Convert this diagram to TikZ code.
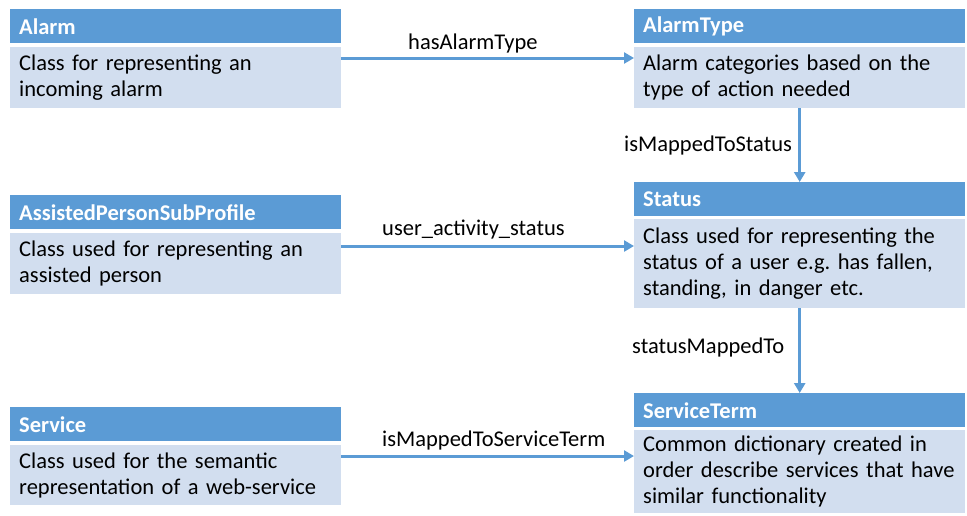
\documentclass[tikz,border=0pt]{standalone}
\usepackage{fontspec}
\setmainfont{Carlito}
\usetikzlibrary{arrows.meta}
\frenchspacing
\definecolor{headblue}{HTML}{5B9BD5}
\definecolor{bodyblue}{HTML}{D2DEEF}
\tikzset{
  boxbase/.style={anchor=north west, inner xsep=9pt, inner ysep=0pt,
    minimum width=331pt, text width=313pt, align=left,
    font=\fontsize{22.5}{26}\selectfont},
  headbox/.style={boxbase, fill=headblue, text=white, minimum height=34pt,
    font=\fontsize{22.5}{26}\selectfont\bfseries},
  bodybox/.style={boxbase, fill=bodyblue, text=black},
  link/.style={draw=headblue, line width=3pt,
    -{Triangle[length=10pt,width=11pt]}},
  linklabel/.style={anchor=west, inner sep=0pt, text=black,
    font=\fontsize{22.5}{26}\selectfont}
}
\begin{document}
\begin{tikzpicture}[x=1pt,y=-1pt]
\useasboundingbox[fill=white] (0,0) rectangle (967,515);

% left column
\node[headbox] (alarmH) at (10,9) {Alarm};
\node[bodybox, minimum height=61pt] (alarm) at (10,47)
  {Class for representing an\\incoming alarm};
\node[headbox] (apspH) at (10,195) {AssistedPersonSubProfile};
\node[bodybox, minimum height=61pt] (apsp) at (10,233)
  {Class used for representing an\\assisted person};
\node[headbox] (serviceH) at (10,407) {Service};
\node[bodybox, minimum height=60pt] (service) at (10,445)
  {Class used for the semantic\\representation of a web-service};

% right column
\node[headbox] (alarmtypeH) at (634,9) {AlarmType};
\node[bodybox, minimum height=61pt] (alarmtype) at (634,47)
  {Alarm categories based on the\\type of action needed};
\node[headbox] (statusH) at (634,182) {Status};
\node[bodybox, minimum height=89pt] (status) at (634,219)
  {Class used for representing the\\status of a user e.g. has fallen,\\standing, in danger etc.};
\node[headbox] (servicetermH) at (634,393) {ServiceTerm};
\node[bodybox, minimum height=83pt] (serviceterm) at (634,430)
  {Common dictionary created in\\order describe services that have\\similar functionality};

% rows of the horizontal connectors
\coordinate (rowA) at (0,58);
\coordinate (rowB) at (0,246);
\coordinate (rowC) at (0,456);

\draw[link] (alarm.east |- rowA) -- (alarmtype.west |- rowA);
\draw[link] (apsp.east |- rowB) -- (status.west |- rowB);
\draw[link] (service.east |- rowC) -- (serviceterm.west |- rowC);
\draw[link] (alarmtype.south) -- (statusH.north);
\draw[link] (status.south) -- (servicetermH.north);

% connector labels
\node[linklabel] (lblA) at (408,43) {hasAlarmType};
\node[linklabel] (lblB) at (382,230) {user\_activity\_status};
\node[linklabel] (lblC) at (382,440) {isMappedToServiceTerm};
\node[linklabel] (lblD) at (624,145) {isMappedToStatus};
\node[linklabel] (lblE) at (632,347) {statusMappedTo};
\end{tikzpicture}
\end{document}
